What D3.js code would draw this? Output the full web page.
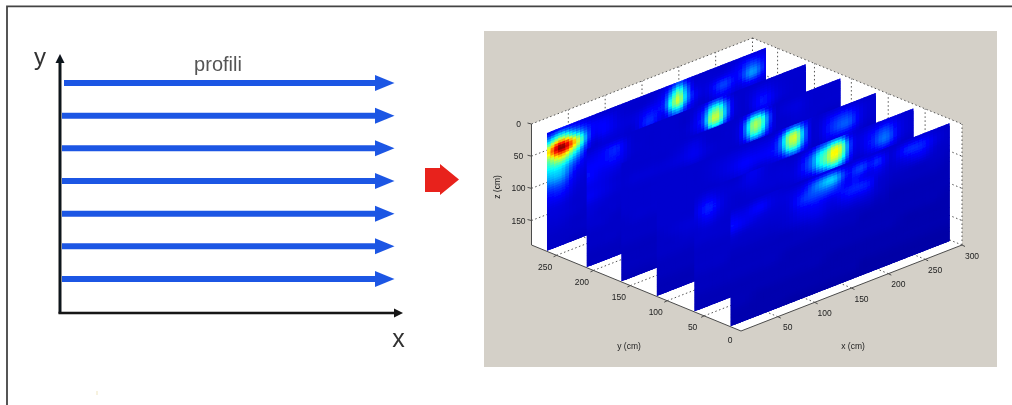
<!DOCTYPE html>
<html><head><meta charset="utf-8">
<script src="https://cdn.jsdelivr.net/npm/d3@7/dist/d3.min.js"></script>
<style>html,body{margin:0;padding:0;background:#fff;overflow:hidden}svg{display:block}text{font-family:"Liberation Sans",Arial,sans-serif}</style>
</head><body><svg id="c" width="1012" height="405"></svg>
<script>
// ---------- data ----------
const profileIndex = [0,1,2,3,4,5,6];
const profileLabel = "profili";
const xTicks = [50,100,150,200,250,300];
const yTicks = [50,100,150,200,250];
const zTicks = [0,50,100,150];
const sliceY = [264,210,163,115,64,15];          // cm, back to front
const gridX = [0,20,40,60,80,100,120,140,160,170,180,190,200,210,220,240,260,280,300]; // cm
const gridZ = [5,20,35,50,65,80,95,110,125,140,155,170,185]; // cm
const slice264 = [
[10,13,11,9,8,8,8,8,9,13,20,13,8,8,8,8,9,10,9],
[30,50,30,15,13,9,8,9,14,30,46,26,11,9,9,10,13,20,12],
[60,100,66,17,14,10,10,15,17,42,57,30,15,10,11,20,14,28,13],
[45,64,40,11,10,9,9,18,11,22,28,16,10,8,9,14,10,13,9],
[36,38,22,9,9,8,8,9,8,10,11,9,8,8,8,8,8,8,8],
[28,30,14,9,8,8,8,8,8,8,8,8,8,8,8,8,8,8,8],
[18,20,11,8,8,8,8,8,8,8,8,8,8,7,7,7,7,7,7],
[13,14,9,8,8,8,7,7,7,7,7,7,7,7,7,7,7,7,7],
[10,10,8,8,7,7,7,7,7,7,7,7,7,7,7,7,7,7,7],
[9,9,8,7,7,7,7,7,7,7,7,7,7,7,7,7,7,7,7],
[8,8,7,7,7,7,7,7,7,7,7,7,7,6,6,6,6,6,6],
[7,7,7,7,6,6,6,6,6,6,6,6,6,6,6,6,6,6,6],
[7,7,6,6,6,6,6,6,6,6,6,6,6,6,6,6,6,6,6]];
const slice210 = [
[8,9,9,8,8,8,8,8,10,16,17,12,8,8,8,8,8,8,8],
[11,13,17,9,8,8,8,8,18,40,45,26,11,8,9,12,9,8,8],
[14,14,15,9,8,8,8,9,20,52,54,28,11,8,9,16,10,8,8],
[15,12,11,8,8,8,8,8,11,24,26,14,8,8,8,12,8,8,8],
[12,11,9,8,8,8,8,8,8,9,10,9,8,8,8,8,8,8,7],
[13,11,9,8,8,8,8,8,8,8,8,8,8,7,7,7,7,7,7],
[10,9,8,8,7,7,7,7,7,7,7,7,7,7,7,7,7,7,7],
[9,8,8,7,7,7,7,7,7,7,7,7,7,7,7,7,7,7,7],
[8,8,7,7,7,7,7,7,7,7,7,7,7,7,7,7,6,6,6],
[7,7,7,7,7,7,7,7,6,6,6,6,6,6,6,6,6,6,6],
[7,7,7,6,6,6,6,6,6,6,6,6,6,6,6,6,6,6,6],
[6,6,6,6,6,6,6,6,6,6,6,6,6,6,6,6,6,6,6],
[6,6,6,6,6,6,6,6,5,5,5,5,5,5,5,5,5,5,5]];
const slice163 = [
[8,8,8,8,8,8,8,8,8,11,17,17,11,8,8,8,8,8,8],
[8,8,8,8,9,11,8,8,10,25,50,47,24,9,9,10,8,8,8],
[8,9,9,9,10,12,9,8,10,24,47,42,21,9,8,9,8,8,8],
[8,8,8,8,8,9,8,8,8,11,19,17,11,8,8,8,8,7,7],
[8,8,8,8,8,8,8,8,8,8,9,9,8,8,7,7,7,7,7],
[8,8,8,8,8,8,8,7,7,7,7,7,7,7,7,7,7,7,7],
[7,8,8,8,7,7,7,7,7,7,7,7,7,7,7,7,7,7,7],
[7,7,7,7,7,7,7,7,7,7,7,7,7,7,7,7,6,6,6],
[7,7,7,7,7,7,7,7,6,6,6,6,6,6,6,6,6,6,6],
[6,6,6,6,6,6,6,6,6,6,6,6,6,6,6,6,6,6,6],
[6,6,6,6,6,6,6,6,6,6,6,6,6,6,6,6,6,6,6],
[6,6,6,6,6,6,6,5,5,5,5,5,5,5,5,5,5,5,5],
[5,5,5,5,5,5,5,5,5,5,5,5,5,5,5,5,5,5,5]];
const slice115 = [
[8,8,8,8,8,8,8,8,8,10,16,19,14,9,8,9,9,8,8],
[8,8,8,8,9,10,11,11,13,25,50,55,28,10,9,16,18,10,8],
[8,8,8,8,9,11,14,13,15,24,46,50,26,10,9,18,22,10,8],
[8,8,8,8,8,9,11,9,10,12,19,21,13,8,8,12,12,8,7],
[8,8,8,8,8,8,9,8,8,8,9,10,9,8,8,8,7,7,7],
[8,8,8,8,8,8,8,8,7,7,7,7,7,7,7,7,7,7,7],
[7,8,9,9,8,8,7,7,7,7,7,7,7,7,7,7,7,7,7],
[7,7,8,8,7,7,7,7,7,7,7,7,7,7,7,7,6,6,6],
[7,7,7,7,7,7,7,6,6,6,6,6,6,6,6,6,6,6,6],
[6,6,6,6,6,6,6,6,6,6,6,6,6,6,6,6,6,6,6],
[6,6,6,6,6,6,6,6,6,6,6,6,6,6,6,6,6,6,5],
[5,5,5,5,5,5,5,5,5,5,5,5,5,5,5,5,5,5,5],
[5,5,5,5,5,5,5,5,5,5,5,5,5,5,5,5,5,5,5]];
const slice64 = [
[8,8,8,8,12,9,8,8,10,16,20,24,22,12,9,9,10,9,8],
[9,12,9,9,11,9,9,10,22,36,44,60,54,24,11,14,20,11,8],
[10,17,10,8,9,9,9,11,22,36,46,58,48,22,10,15,24,11,8],
[9,13,9,8,8,8,8,9,11,16,22,28,22,12,8,10,13,8,7],
[8,9,8,8,8,8,8,8,8,9,10,11,10,8,8,8,8,7,7],
[8,8,8,8,8,8,8,8,7,7,7,7,7,7,7,7,7,7,6],
[7,7,7,7,7,7,7,7,7,7,7,7,7,6,6,6,6,6,6],
[7,7,7,7,7,7,7,6,6,6,6,6,6,6,6,6,6,6,6],
[7,7,7,6,6,6,6,6,6,6,6,6,6,6,6,6,6,6,5],
[6,6,6,6,6,6,6,6,6,6,6,6,6,5,5,5,5,5,5],
[6,6,6,6,5,5,5,5,5,5,5,5,5,5,5,5,5,5,5],
[5,5,5,5,5,5,5,5,5,5,5,5,5,5,5,5,5,5,5],
[5,5,5,5,5,5,5,5,5,5,5,5,5,5,5,4,4,4,4]];
const slice15 = [
[8,8,9,9,8,8,10,10,9,9,9,9,9,8,8,8,9,8,7],
[12,11,14,10,10,14,26,33,15,18,20,15,18,13,9,17,17,10,7],
[15,12,10,9,10,18,21,21,13,15,13,11,12,10,8,11,13,8,7],
[9,8,8,8,9,13,14,12,16,17,17,15,9,8,7,7,7,7,6],
[7,7,7,7,8,10,11,9,11,11,11,10,8,7,6,6,6,6,5],
[6,6,6,6,6,7,8,7,7,7,7,7,6,6,5,5,5,5,5],
[6,6,6,6,6,6,6,6,6,6,5,5,5,5,5,5,5,5,5],
[6,6,6,6,5,5,5,5,5,5,5,5,5,5,5,5,5,5,4],
[5,5,5,5,5,5,5,5,5,5,5,5,5,5,5,4,4,4,4],
[5,5,5,5,5,5,5,4,4,4,4,4,4,4,4,4,4,4,4],
[5,5,4,4,4,4,4,4,4,4,4,4,4,4,4,4,4,4,4],
[4,4,4,4,4,4,4,4,4,4,3,3,3,3,3,3,3,3,3],
[4,4,4,4,3,3,3,3,3,3,3,3,3,3,3,3,3,3,3]];
const sliceGrids = [slice264,slice210,slice163,slice115,slice64,slice15];

// ---------- scales ----------
const svg = d3.select("#c");
const defs = svg.append("defs");
const addBlur=(id,s)=>defs.append("filter").attr("id",id).attr("filterUnits","userSpaceOnUse")
  .attr("x",0).attr("y",0).attr("width",1012).attr("height",405)
  .append("feGaussianBlur").attr("stdDeviation",s);
addBlur("soft",0.5); addBlur("softer",0.6);

const xMax=300,yMax=284,zMax=188;
const xSX=d3.scaleLinear().domain([0,xMax]).range([0,221]);
const xSY=d3.scaleLinear().domain([0,xMax]).range([0,-86]);
const ySX=d3.scaleLinear().domain([0,yMax]).range([0,-209.5]);
const ySY=d3.scaleLinear().domain([0,yMax]).range([0,-86]);
const zS =d3.scaleLinear().domain([0,zMax]).range([-121,0]);
const ORIGIN=[741,331];
const P=(x,y,z=zMax)=>[ORIGIN[0]+xSX(x)+ySX(y), ORIGIN[1]+xSY(x)+ySY(y)+zS(z)];
const jet=d3.scaleLinear().domain([0,14,37.5,62.5,87.5,100])
  .range(["#00008f","#0000ff","#00ffff","#ffff00","#ff0000","#800000"]).clamp(true);
const line=d3.line();

// ---------- left schematic ----------
const left=svg.append("g").attr("filter","url(#soft)");
const profY=d3.scalePoint().domain(profileIndex).range([83,279]);
const BLUE="#1f57e4";
left.selectAll("path.prof").data(profileIndex).join("path").attr("class","prof")
  .attr("fill",BLUE)
  .attr("d",i=>{const y=profY(i),x0=i==0?64:62;
    return line([[x0,y-3],[375,y-3],[375,y-8],[394.5,y],[375,y+8],[375,y+3],[x0,y+3]])+"Z";});
left.append("path").attr("d",line([[60,313.5],[60,60]])).attr("stroke","#10141c").attr("stroke-width",3).attr("fill","none");
left.append("path").attr("d",line([[55.5,63],[60,54],[64.5,63]])+"Z").attr("fill","#10141c");
left.append("path").attr("d",line([[58.5,313],[396,313]])).attr("stroke","#151515").attr("stroke-width",2.4).attr("fill","none");
left.append("path").attr("d",line([[394,308.5],[403,313],[394,317.5]])+"Z").attr("fill","#151515");
left.append("text").attr("x",40).attr("y",65).attr("text-anchor","middle").attr("font-size",24).attr("fill","#333").text("y");
left.append("text").attr("x",398.5).attr("y",347).attr("text-anchor","middle").attr("font-size",25).attr("fill","#333").text("x");
left.append("text").attr("x",218).attr("y",71).attr("text-anchor","middle").attr("font-size",20).attr("fill","#555").text(profileLabel);
left.append("path").attr("fill","#e8231a")
  .attr("d",line([[425,168],[440,168],[440,164],[459,179.5],[440,195],[440,192],[425,192]])+"Z");
left.append("rect").attr("x",96.5).attr("y",391).attr("width",1).attr("height",4).attr("fill","#efe6c0");

// frame: left and top edges only
svg.append("path").attr("d",line([[7,405],[7,6.3],[1012,6.3]]))
  .attr("fill","none").attr("stroke","#444").attr("stroke-width",1.8);

// ---------- right panel ----------
const panel=svg.append("g").attr("filter","url(#softer)");
panel.append("rect").attr("x",484).attr("y",31).attr("width",513).attr("height",336).attr("fill","#d4d0c8");

panel.append("path").attr("fill","#fff").attr("d",line([P(0,0),P(xMax,0),P(xMax,0,0),P(xMax,yMax,0),P(0,yMax,0),P(0,yMax)])+"Z");

const dot=(a,b)=>panel.append("path").attr("d",line([a,b])).attr("stroke","#555").attr("stroke-width",1)
  .attr("stroke-dasharray","1.5 2.5").attr("fill","none");
xTicks.forEach(x=>{dot(P(x,0),P(x,yMax));dot(P(x,yMax),P(x,yMax,0));});
yTicks.forEach(y=>{dot(P(0,y),P(xMax,y));dot(P(xMax,y),P(xMax,y,0));});
zTicks.forEach(z=>{dot(P(0,yMax,z),P(xMax,yMax,z));dot(P(xMax,yMax,z),P(xMax,0,z));});
dot(P(xMax,0),P(xMax,0,0));

const solid=(a,b)=>panel.append("path").attr("d",line([a,b])).attr("stroke","#4c4c4c").attr("stroke-width",1).attr("fill","none");
solid(P(0,yMax),P(0,0));solid(P(0,0),P(xMax,0));solid(P(0,yMax),P(0,yMax,0));

// heat slices
function cr(p0,p1,p2,p3,t){return .5*((2*p1)+(-p0+p2)*t+(2*p0-5*p1+4*p2-p3)*t*t+(-p0+3*p1-3*p2+p3)*t*t*t);}
const xIndex=d3.scaleLinear().domain(gridX).range(d3.range(gridX.length)).clamp(true);
const zIndex=d3.scaleLinear().domain(gridZ).range(d3.range(gridZ.length)).clamp(true);
function sample(grid,x,z){
  const fx=Math.min(gridX.length-1.001,xIndex(x));
  const fz=Math.min(gridZ.length-1.001,zIndex(z));
  const i=Math.floor(fx),j=Math.floor(fz),tx=fx-i,tz=fz-j;
  const rowAt=r=>{const R=grid[Math.max(0,Math.min(grid.length-1,r))];
    const c=k=>R[Math.max(0,Math.min(R.length-1,k))];
    return cr(c(i-1),c(i),c(i+1),c(i+2),tx);};
  return cr(rowAt(j-1),rowAt(j),rowAt(j+1),rowAt(j+2),tz);
}
const X0=1,X1=298,Z0=5,Z1=188,DX=5,DZ=3.75;
const xs=d3.range(X0,X1,DX), zs=d3.range(Z0,Z1,DZ);
sliceY.forEach((y,si)=>{
  const o=P(0,y,0), ax=(P(1,y,0)[0]-o[0]), ay=(P(1,y,0)[1]-o[1]), cz=(P(0,y,1)[1]-o[1]);
  const cells=[];
  xs.forEach(x=>zs.forEach(z=>cells.push({x,z,v:sample(sliceGrids[si],x+DX/2,z+DZ/2)})));
  panel.append("g").attr("transform",`matrix(${ax},${ay},0,${cz},${o[0]},${o[1]})`)
    .selectAll("rect").data(cells).join("rect")
    .attr("x",d=>d.x).attr("y",d=>d.z)
    .attr("width",d=>Math.min(DX+4,X1-d.x)).attr("height",d=>Math.min(DZ+4,Z1-d.z))
    .attr("fill",d=>jet(d.v));
});

// ticks & labels
const tick=(a,dx,dy)=>panel.append("path").attr("d",line([a,[a[0]+dx,a[1]+dy]])).attr("stroke","#4c4c4c").attr("stroke-width",1);
const lab=(p,t)=>panel.append("text").attr("x",p[0]).attr("y",p[1]).attr("text-anchor","middle")
  .attr("dominant-baseline","central").attr("font-size",8.5).attr("fill","#222").text(t);
xTicks.forEach(x=>{const p=P(x,0);tick(p,3,1.5);lab([p[0]+10,p[1]+10.5],x);});
yTicks.forEach(y=>{const p=P(0,y);tick(p,-3,1.5);lab([p[0]-11.5,p[1]+11.5],y);});
lab([730,340],0);
zTicks.forEach(z=>{const p=P(0,yMax,z);tick(p,-4,-1);lab([p[0]-13,p[1]],z);});
lab([629,346],"y (cm)");lab([853,346],"x (cm)");
panel.append("text").attr("transform","translate(497,187) rotate(-90)").attr("text-anchor","middle")
  .attr("dominant-baseline","central").attr("font-size",8.5).attr("fill","#222").text("z (cm)");
</script></body></html>
